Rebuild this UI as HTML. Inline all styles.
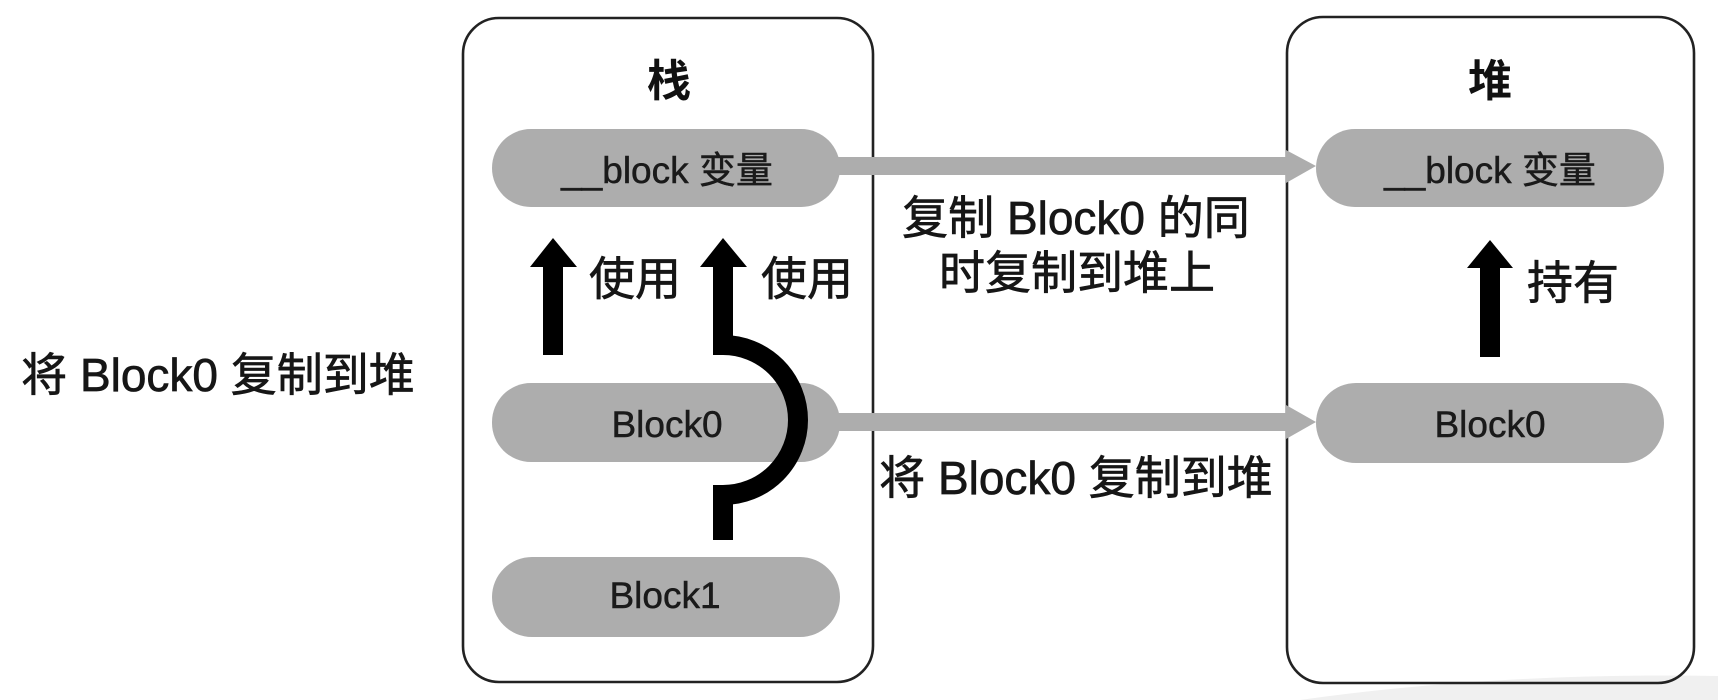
<!DOCTYPE html>
<html>
<head>
<meta charset="utf-8">
<style>
  html,body{margin:0;padding:0;background:#fff;width:1718px;height:700px;overflow:hidden;}
  svg{display:block;overflow:hidden;}
  .lbl{font-family:"Liberation Sans","Noto Sans CJK SC",sans-serif;font-size:46px;fill:#161616;stroke:#161616;stroke-width:0.7px;}
  .pt{font-family:"Liberation Sans","Noto Sans CJK SC",sans-serif;font-size:37px;fill:#1a1a1a;stroke:#1a1a1a;stroke-width:0.5px;}
  .ttl{font-family:"Liberation Sans","Noto Sans CJK SC",sans-serif;font-size:44px;font-weight:bold;fill:#111;}
</style>
</head>
<body>
<svg width="1718" height="700" viewBox="0 0 1718 700" xmlns="http://www.w3.org/2000/svg">
  <!-- faint smudge bottom right -->
  <path d="M1300,700 Q1500,672 1718,676 L1718,700 Z" fill="#f0f0f0"/>

  <!-- boxes -->
  <rect x="463" y="18" width="410" height="664" rx="36" ry="36" fill="none" stroke="#222" stroke-width="2.6"/>
  <rect x="1287" y="17" width="407" height="666" rx="36" ry="36" fill="none" stroke="#222" stroke-width="2.6"/>

  <!-- titles -->
  <text class="ttl" x="669" y="96" text-anchor="middle">栈</text>
  <text class="ttl" x="1490" y="96" text-anchor="middle">堆</text>

  <!-- pills left -->
  <rect x="492" y="129" width="348" height="78" rx="39" ry="39" fill="#adadad"/>
  <rect x="492" y="383" width="348" height="79" rx="39" ry="39" fill="#adadad"/>
  <rect x="492" y="557" width="348" height="80" rx="40" ry="40" fill="#adadad"/>
  <!-- pills right -->
  <rect x="1316" y="129" width="348" height="78" rx="39" ry="39" fill="#adadad"/>
  <rect x="1316" y="383" width="348" height="80" rx="40" ry="40" fill="#adadad"/>

  <!-- gray arrows -->
  <rect x="830" y="157" width="459" height="18" fill="#adadad"/>
  <polygon points="1286,150 1316,166 1286,183" fill="#adadad"/>
  <rect x="830" y="413" width="459" height="18" fill="#adadad"/>
  <polygon points="1286,405 1316,422 1286,439" fill="#adadad"/>

  <!-- pill text -->
  <text class="pt" x="667" y="183" text-anchor="middle">__block 变量</text>
  <text class="pt" x="667" y="437" text-anchor="middle">Block0</text>
  <text class="pt" x="665" y="608" text-anchor="middle">Block1</text>
  <text class="pt" x="1490" y="183" text-anchor="middle">__block 变量</text>
  <text class="pt" x="1490" y="437" text-anchor="middle">Block0</text>

  <!-- black arrow 1 -->
  <rect x="543" y="264" width="20" height="91" fill="#000"/>
  <polygon points="530,267 553,238 577,267" fill="#000"/>

  <!-- black arrow 2 with bypass arc -->
  <rect x="713" y="264" width="20" height="91" fill="#000"/>
  <polygon points="700,267 723,238 747,267" fill="#000"/>
  <path d="M723,345 A75,75 0 0 1 723,495" fill="none" stroke="#000" stroke-width="20"/>
  <rect x="713" y="485" width="20" height="55" fill="#000"/>

  <!-- holding arrow -->
  <rect x="1480" y="264" width="20" height="93" fill="#000"/>
  <polygon points="1467,268 1490,240 1513,268" fill="#000"/>

  <!-- labels -->
  <text class="lbl" x="589" y="295">使用</text>
  <text class="lbl" x="761" y="295">使用</text>
  <text class="lbl" x="1527" y="299">持有</text>

  <text class="lbl" x="218" y="391" text-anchor="middle">将 Block0 复制到堆</text>
  <text class="lbl" x="1076" y="234" text-anchor="middle">复制 Block0 的同</text>
  <text class="lbl" x="1077" y="289" text-anchor="middle">时复制到堆上</text>
  <text class="lbl" x="1076" y="494" text-anchor="middle">将 Block0 复制到堆</text>
</svg>
</body>
</html>
